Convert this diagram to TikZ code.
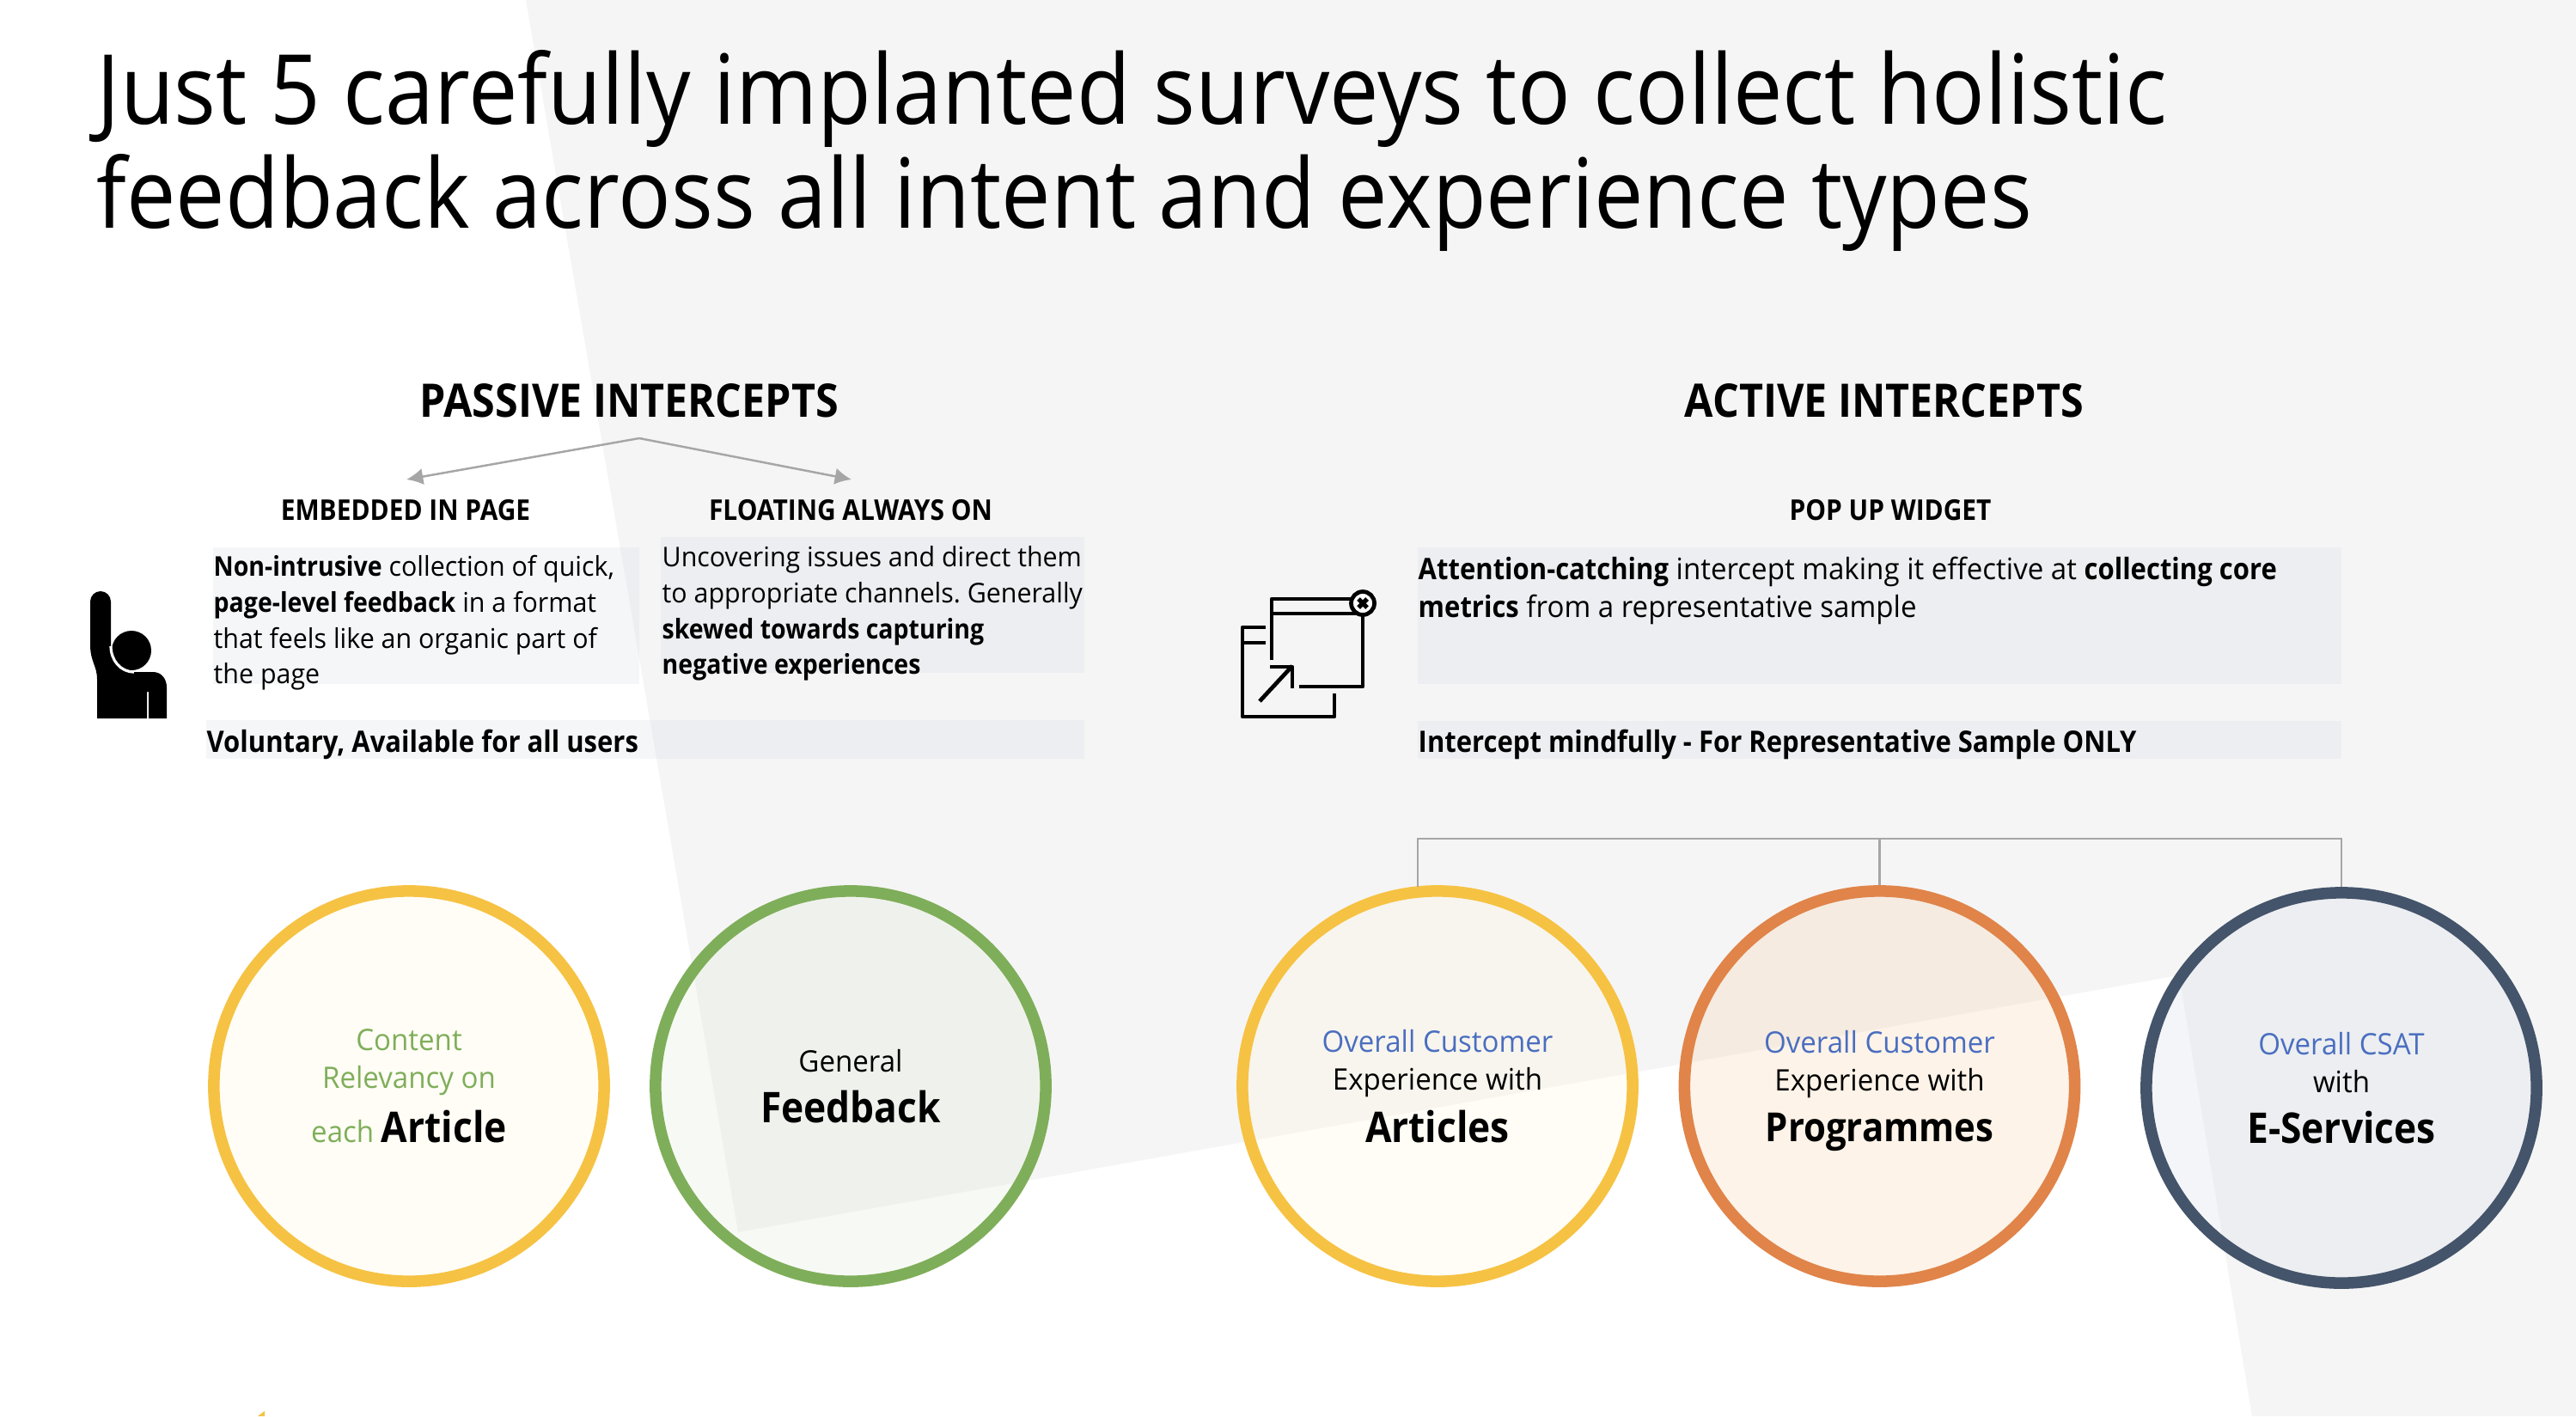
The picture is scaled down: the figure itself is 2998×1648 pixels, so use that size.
\documentclass[tikz,border=0pt]{standalone}
\usepackage{fontspec}
\setmainfont{Open Sans}[UprightFeatures={FakeStretch=0.96},BoldFeatures={FakeStretch=0.9}]
\newfontfamily\titlefont{Open Sans}[FakeStretch=0.91]
\usetikzlibrary{arrows.meta}
\definecolor{bggray}{HTML}{F5F5F5}
\definecolor{panelblue}{HTML}{DDE1E9}
\definecolor{ringyellow}{HTML}{F6C243}
\definecolor{ringgreen}{HTML}{7FAE5A}
\definecolor{ringorange}{HTML}{E0844A}
\definecolor{ringnavy}{HTML}{44546A}
\definecolor{tintyellow}{HTML}{FFF8DE}
\definecolor{tintgreen}{HTML}{E4EEDA}
\definecolor{tintorange}{HTML}{F8D7B2}
\definecolor{tintnavy}{HTML}{DADEE8}
\definecolor{textblue}{HTML}{4A6EC0}
\definecolor{linegray}{HTML}{A6A6A6}
\newcommand{\bigword}[2][14]{{\fontsize{#1}{17}\selectfont\bfseries\raisebox{0pt}[\height][0pt]{#2}}}
\tikzset{
  panel/.style={fill=panelblue,fill opacity=0.3,draw=none},
  heading/.style={font=\fontsize{15.3}{18}\selectfont\bfseries,inner sep=0pt},
  subheading/.style={font=\fontsize{9.45}{11}\selectfont\bfseries,inner sep=0pt},
  body/.style={font=\frenchspacing\fontsize{9}{11.85}\selectfont,align=left,anchor=north west,inner sep=0pt},
  bodylarge/.style={body,font=\frenchspacing\fontsize{9.8}{12.5}\selectfont},
  ring/.style n args={2}{circle,draw=#1,fill=#2,fill opacity=0.3,text opacity=1,
    line width=3.85pt,minimum size=4.54cm,inner sep=0pt,align=center,
    font=\fontsize{9.8}{12.4}\selectfont},
  feed/.style={draw=linegray,line width=0.7pt},
  iconline/.style={draw=black,line width=1.35pt}
}
\begin{document}
\begin{tikzpicture}[x=0.01cm,y=-0.01cm]
  \useasboundingbox (0,0) rectangle (2998,1648);
  \fill[bggray] (612,0) -- (859,1434) -- (2536,1135) -- (2621,1648) -- (2998,1648) -- (2998,0) -- cycle;
  \fill[ringyellow] (300,1648) -- (308,1642) -- (308,1648) -- cycle;

  \node[anchor=north west,inner sep=0pt,align=left,font=\titlefont\fontsize{32}{34.3}\selectfont] (title) at (112,58)
    {Just 5 carefully implanted surveys to collect holistic\\feedback across all intent and experience types};

  \node[heading] (passive) at (732,466) {PASSIVE INTERCEPTS};
  \node[heading] (active) at (2193,466) {ACTIVE INTERCEPTS};
  \node[subheading] (embedded) at (472,594) {EMBEDDED IN PAGE};
  \node[subheading] (floating) at (990,594) {FLOATING ALWAYS ON};
  \node[subheading] (popup) at (2200,594) {POP UP WIDGET};

  \coordinate (passivejoin) at (744,510);
  \coordinate (embedtip) at (473,558);
  \coordinate (floattip) at (991,558);
  \draw[feed,-{Latex[length=5.5pt,width=5.5pt]}] (passivejoin) -- (embedtip);
  \draw[feed,-{Latex[length=5.5pt,width=5.5pt]}] (passivejoin) -- (floattip);

  \fill[panel] (248,637) rectangle (744,796);
  \fill[panel] (769,625) rectangle (1262,783);
  \fill[panel] (240,838) rectangle (1262,883);
  \fill[panel] (1650,637) rectangle (2725,796);
  \fill[panel] (1650,839) rectangle (2725,883);

  \node[body] (embedtext) at (248,646)
    {\textbf{Non-intrusive} collection of quick,\\\textbf{page-level feedback} in a format\\that feels like an organic part of\\the page};
  \node[body] (floattext) at (770,635)
    {Uncovering issues and direct them\\to appropriate channels. Generally\\\textbf{skewed towards capturing}\\\textbf{negative experiences}};
  \node[bodylarge] (voluntary) at (240,848) {\textbf{Voluntary, Available for all users}};
  \node[bodylarge] (popuptext) at (1650,647)
    {\textbf{Attention-catching} intercept making it effective at \textbf{collecting core}\\\textbf{metrics} from a representative sample};
  \node[bodylarge] (mindful) at (1650,848) {\textbf{Intercept mindfully - For Representative Sample ONLY}};

  \node[ring={ringyellow}{tintyellow}] (article) at (476,1264)
    {\textcolor{ringgreen}{Content}\\\textcolor{ringgreen}{Relevancy on}\\[4pt]\textcolor{ringgreen}{each} \bigword{Article}};
  \node[ring={ringgreen}{tintgreen}] (general) at (990,1264)
    {General\\[4.5pt]\bigword{Feedback}};
  \node[ring={ringyellow}{tintyellow}] (articles) at (1673,1264)
    {\textcolor{textblue}{Overall Customer}\\Experience with\\[3.5pt]\bigword{Articles}};
  \node[ring={ringorange}{tintorange}] (programmes) at (2187.5,1264)
    {\textcolor{textblue}{Overall Customer}\\Experience with\\[4.5pt]\bigword[13.25]{Programmes}};
  \node[ring={ringnavy}{tintnavy}] (eservices) at (2725,1266)
    {\textcolor{textblue}{Overall CSAT}\\with\\[4.5pt]\bigword{E-Services}};

  \coordinate (barleft) at (1650,976);
  \coordinate (barmid) at (programmes.north |- barleft);
  \coordinate (barright) at (eservices.north |- barleft);
  \coordinate (articlesdrop) at (1650,1032);
  \draw[feed] (articlesdrop) -- (barleft) -- (barright) -- (eservices.north);
  \draw[feed] (barmid) -- (programmes.north);

  % raised hand
  \fill[black] (105,700) arc[start angle=180,end angle=360,x radius=12,y radius=12] -- (129,752)
    .. controls (129,768) and (140,782) .. (156,782) -- (178,782)
    .. controls (188,782) and (194,790) .. (194,800) -- (194,836) -- (173,836) -- (173,805) -- (171,805)
    -- (171,836) -- (113,836) -- (113,790) .. controls (113,775) and (105,770) .. (105,750) -- cycle;
  \fill[black] (153,757) circle[radius=23];
  \draw[white,line width=0.9pt] (129,752) .. controls (129,768) and (140,782) .. (156,782);

  % pop up window
  \draw[iconline,line join=round] (1480,768) -- (1480,697) -- (1586,697) -- (1586,799) -- (1512,799);
  \draw[iconline] (1480,714) -- (1586,714);
  \draw[iconline,line join=round] (1473,730) -- (1446,730) -- (1446,834) -- (1553,834) -- (1553,807);
  \draw[iconline] (1446,748) -- (1473,748);
  \draw[iconline,line join=round] (1466,816) -- (1504,775);
  \draw[iconline,line join=round] (1478,776) -- (1504,776) -- (1504,801);
  \draw[iconline,fill=white] (1586,702) circle[radius=13.5];
  \draw[black,line width=1.5pt] (1581,697) -- (1591,707) (1591,697) -- (1581,707);
\end{tikzpicture}
\end{document}
